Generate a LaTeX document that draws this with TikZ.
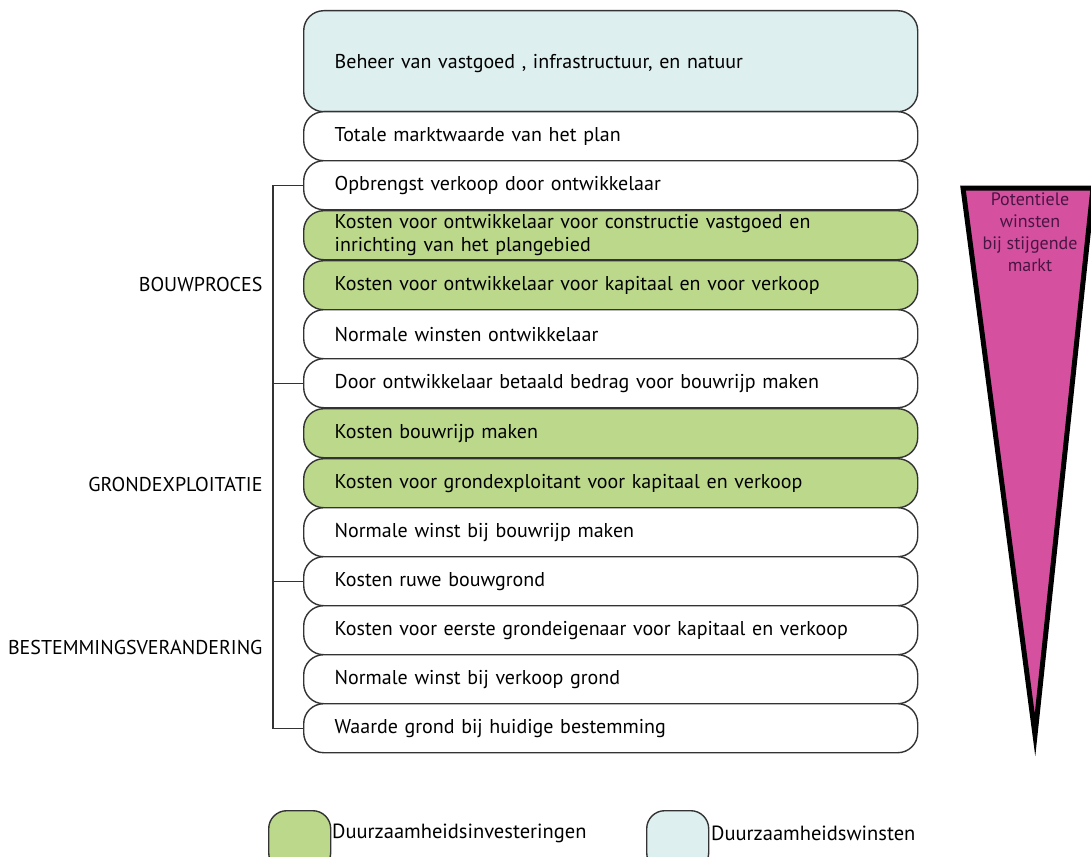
\documentclass[tikz,border=0pt]{standalone}
\usepackage{fontspec}
\setmainfont{PT Sans}
\definecolor{greenbox}{HTML}{BCD98B}
\definecolor{bluebox}{HTML}{DDEFEF}
\definecolor{magenta}{HTML}{D5519F}
\definecolor{edge}{HTML}{333333}
\definecolor{tritext}{HTML}{4A1444}
\tikzset{
  row/.style={draw=edge, line width=1.4pt, rounded corners=20pt, anchor=north west,
    minimum width=614pt, minimum height=49pt, text width=552pt, inner xsep=31pt,
    align=left, font=\fontsize{20}{23}\selectfont, fill=white},
  grn/.style={row, fill=greenbox},
  blu/.style={row, fill=bluebox},
  lbl/.style={anchor=east, font=\fontsize{20}{23}\selectfont},
  brk/.style={draw=edge, line width=1.2pt},
  legbox/.style={draw=edge, line width=1.4pt, rounded corners=18pt, anchor=north west,
    minimum width=62pt, minimum height=60pt},
  legtxt/.style={anchor=west, font=\fontsize{20.5}{23}\selectfont, inner sep=0pt}
}
\begin{document}
\begin{tikzpicture}[x=1pt,y=-1pt]
\clip (0,0) rectangle (1091,856);
\fill[white] (0,0) rectangle (1091,856);
\node[blu, minimum height=101pt, text depth=-4pt] (beh) at (303,10) {Beheer van vastgoed , infrastructuur, en natuur};
\node[row] (tot) at (303,111) {Totale marktwaarde van het plan};
\node[row] (opb) at (303,160) {Opbrengst verkoop door ontwikkelaar};
\node[grn] (kc) at (303,210) {Kosten voor ontwikkelaar voor constructie vastgoed en\\inrichting van het plangebied};
\node[grn] (kk) at (303,260) {Kosten voor ontwikkelaar voor kapitaal en voor verkoop};
\node[row] (nw) at (303,309) {Normale winsten ontwikkelaar};
\node[row] (door) at (303,358) {Door ontwikkelaar betaald bedrag voor bouwrijp maken};
\node[grn] (kb) at (303,408) {Kosten bouwrijp maken};
\node[grn] (kg) at (303,458) {Kosten voor grondexploitant voor kapitaal en verkoop};
\node[row] (nwb) at (303,507) {Normale winst bij bouwrijp maken};
\node[row] (ruwe) at (303,556) {Kosten ruwe bouwgrond};
\node[row] (ke) at (303,605) {Kosten voor eerste grondeigenaar voor kapitaal en verkoop};
\node[row] (nwv) at (303,654) {Normale winst bij verkoop grond};
\node[row] (wg) at (303,703) {Waarde grond bij huidige bestemming};
% bracket
\draw[brk] (opb.west) -- ++(-30,0) |- (wg.west);
\draw[brk] (door.west) -- ++(-30,0);
\draw[brk] (ruwe.west) -- ++(-30,0);
\node[lbl] (l1) at (266,284) {BOUWPROCES};
\node[lbl] (l2) at (266,484) {GRONDEXPLOITATIE};
\node[lbl] (l3) at (266,647) {BESTEMMINGSVERANDERING};
% triangle
\draw[fill=magenta, line width=5pt, line join=miter] (963,188) -- (1093,188) -- (1035,735) -- cycle;
\node[align=center, text=tritext, font=\fontsize{18}{22}\selectfont, anchor=north, inner sep=0pt] (tri) at (1030,193) {Potentiele\\winsten\\bij stijgende\\markt};
% legend
\node[legbox, fill=greenbox] (lg1) at (268,810) {};
\node[legtxt] (lt1) at (332,833) {Duurzaamheidsinvesteringen};
\node[legbox, fill=bluebox] (lg2) at (646,810) {};
\node[legtxt] (lt2) at (711,833) {Duurzaamheidswinsten};
\end{tikzpicture}
\end{document}
